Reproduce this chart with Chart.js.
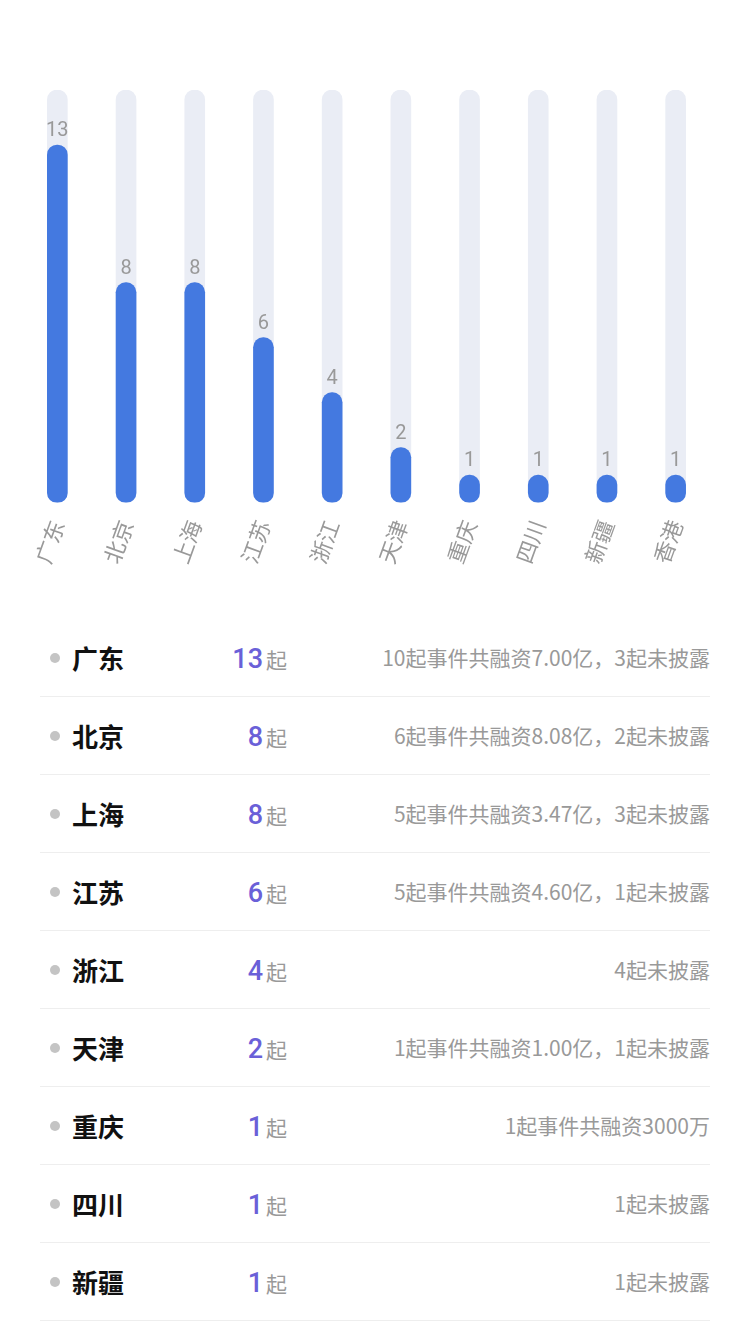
<!DOCTYPE html>
<html><head><meta charset="utf-8">
<script src="https://cdn.jsdelivr.net/npm/chart.js@4/dist/chart.umd.min.js"></script>
<style>
body{margin:0;background:#fff;font-family:"Noto Sans CJK SC","Noto Sans",sans-serif;}
#wrap{position:relative;width:750px;height:619px;}
.row{position:relative;margin:0 40px;height:77px;border-bottom:1.5px solid #eeeeee;}
.dot{position:absolute;left:10px;top:34px;width:10px;height:10px;border-radius:5px;background:#c4c4c4;}
.name{position:absolute;left:32px;top:0;line-height:77px;font-size:26px;font-weight:bold;color:#111;}
.cnt{position:absolute;right:423px;top:0;line-height:80px;font-size:27px;font-weight:500;color:#6a60d8;font-family:Roboto,sans-serif;}
.cnt span{font-size:21px;font-weight:normal;color:#999;font-family:"Noto Sans CJK SC";margin-left:3px;}
.desc{position:absolute;right:0;top:0;line-height:77px;font-size:21px;color:#999;}
</style></head><body>
<div id="wrap"><canvas id="c" width="750" height="619"></canvas></div>
<div id="list"></div>
<script>
const categories=["广东","北京","上海","江苏","浙江","天津","重庆","四川","新疆","香港"];
const values=[13,8,8,6,4,2,1,1,1,1];
const trackMax=15;
const listNames=["广东","北京","上海","江苏","浙江","天津","重庆","四川","新疆"];
const listCounts=[13,8,8,6,4,2,1,1,1];
const listDesc=["10起事件共融资7.00亿，3起未披露","6起事件共融资8.08亿，2起未披露","5起事件共融资3.47亿，3起未披露","5起事件共融资4.60亿，1起未披露","4起未披露","1起事件共融资1.00亿，1起未披露","1起事件共融资3000万","1起未披露","1起未披露"];

const list=document.getElementById('list');
listNames.forEach((n,i)=>{
  const r=document.createElement('div');r.className='row';
  r.innerHTML=`<div class="dot"></div><div class="name">${n}</div><div class="cnt">${listCounts[i]}<span>起</span></div><div class="desc">${listDesc[i]}</div>`;
  list.appendChild(r);
});

const labelPlugin={id:'lbl',afterDatasetsDraw(chart){
  const ctx=chart.ctx;const meta=chart.getDatasetMeta(1);
  ctx.save();ctx.fillStyle='#999';ctx.font='20px Roboto, sans-serif';ctx.textAlign='center';ctx.textBaseline='bottom';
  meta.data.forEach((b,i)=>{ctx.fillText(values[i],b.x,b.y-4);});
  ctx.restore();
}};
new Chart(document.getElementById('c'),{
  type:'bar',
  data:{labels:categories,datasets:[
    {data:categories.map(()=>trackMax),backgroundColor:'#eaedf5',barThickness:20,borderRadius:10,borderSkipped:false,grouped:false,order:2},
    {data:values,backgroundColor:'#4479e0',barThickness:20,borderRadius:10,borderSkipped:false,grouped:false,order:1}
  ]},
  plugins:[labelPlugin],
  options:{responsive:false,animation:false,
    layout:{padding:{left:23,right:40,top:90,bottom:46}},
    plugins:{legend:{display:false},tooltip:{enabled:false}},
    scales:{
      y:{display:false,min:0,max:trackMax},
      x:{grid:{display:false},border:{display:false},
        ticks:{color:'#999',font:{size:22,family:'"Noto Sans CJK SC"'},maxRotation:70,minRotation:70,padding:6}}
    }}
});
</script></body></html>
